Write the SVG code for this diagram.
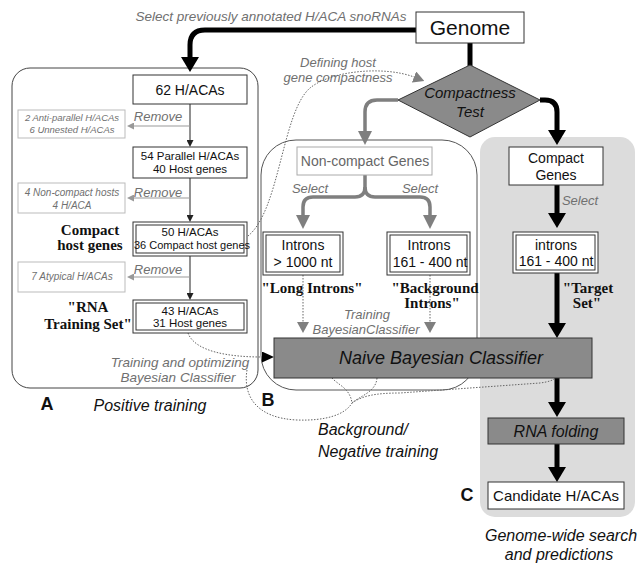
<svg xmlns="http://www.w3.org/2000/svg" width="643" height="565" viewBox="0 0 643 565">
<defs>
<style>
.s{font-family:"Liberation Sans",Arial,sans-serif;}
.i{font-family:"Liberation Sans",Arial,sans-serif;font-style:italic;}
.b{font-family:"Liberation Serif","Times New Roman",serif;font-weight:bold;}
.L{font-family:"Liberation Sans",Arial,sans-serif;font-weight:bold;}
.g{fill:#707070;}
.k{fill:#111;}
.box{fill:#fff;stroke:#333;stroke-width:1;}
.gbox{fill:#fff;stroke:#bbb;stroke-width:1;}
.dark{fill:#8a8a8a;stroke:#333;stroke-width:1;}
.thick{fill:none;stroke:#000;stroke-width:5;}
.gthick{fill:none;stroke:#7f7f7f;stroke-width:3.5;}
.thin{fill:none;stroke:#222;stroke-width:1;}
.gthin{fill:none;stroke:#999;stroke-width:1;}
.dot{fill:none;stroke:#666;stroke-width:1;stroke-dasharray:1.5 1.5;}
</style>
<marker id="hb" markerUnits="userSpaceOnUse" viewBox="0 0 15 18" refX="0" refY="9" markerWidth="15" markerHeight="18" orient="auto"><path d="M0,0 L15,9 L0,18 z" fill="#000"/></marker>
<marker id="hg" markerUnits="userSpaceOnUse" viewBox="0 0 14 14" refX="0" refY="7" markerWidth="14" markerHeight="14" orient="auto"><path d="M0,0 L14,7 L0,14 z" fill="#7f7f7f"/></marker>
<marker id="hs" markerUnits="userSpaceOnUse" viewBox="0 0 7 7" refX="0" refY="3.5" markerWidth="7" markerHeight="7" orient="auto"><path d="M0,0 L7,3.5 L0,7 z" fill="#222"/></marker>
<marker id="hsg" markerUnits="userSpaceOnUse" viewBox="0 0 7 7" refX="0" refY="3.5" markerWidth="7" markerHeight="7" orient="auto"><path d="M0,0 L7,3.5 L0,7 z" fill="#999"/></marker>
<marker id="hdg" markerUnits="userSpaceOnUse" viewBox="0 0 11 12" refX="0" refY="6" markerWidth="11" markerHeight="12" orient="auto"><path d="M0,0 L11,6 L0,12 z" fill="#7f7f7f"/></marker>
<marker id="hdk" markerUnits="userSpaceOnUse" viewBox="0 0 12 11" refX="0" refY="5.5" markerWidth="12" markerHeight="11" orient="auto"><path d="M0,0 L12,5.5 L0,11 z" fill="#000"/></marker>
</defs>

<g id="panels">
<rect x="480" y="137" width="155" height="380" rx="15" fill="#dcdcdc"/>
<rect x="12" y="68" width="246" height="320" rx="18" fill="none" stroke="#444" stroke-width="1"/>
<rect x="261" y="140" width="216" height="250" rx="35" fill="none" stroke="#555" stroke-width="1"/>
</g>

<g id="labels">
<text class="i g" x="271" y="21" font-size="13.5" text-anchor="middle">Select previously annotated H/ACA snoRNAs</text>
<text class="i g" x="338" y="67" font-size="13" text-anchor="middle">Defining host</text>
<text class="i g" x="338" y="82" font-size="13" text-anchor="middle">gene compactness</text>
<text class="i g" x="158" y="121" font-size="13" text-anchor="middle">Remove</text>
<text class="i g" x="158" y="197" font-size="13" text-anchor="middle">Remove</text>
<text class="i g" x="158" y="274" font-size="13" text-anchor="middle">Remove</text>
<text class="b k" x="90" y="235" font-size="15" text-anchor="middle">Compact</text>
<text class="b k" x="90" y="250" font-size="15" text-anchor="middle">host genes</text>
<text class="b k" x="88" y="312" font-size="15" text-anchor="middle">"RNA</text>
<text class="b k" x="88" y="329" font-size="15" text-anchor="middle">Training Set"</text>
<text class="i g" x="180" y="367" font-size="13.5" text-anchor="middle">Training and optimizing</text>
<text class="i g" x="178" y="382" font-size="13.5" text-anchor="middle">Bayesian Classifier</text>
<text class="L k" x="47" y="410" font-size="18" text-anchor="middle">A</text>
<text class="i k" x="150" y="411" font-size="16" text-anchor="middle">Positive training</text>
<text class="L k" x="268" y="406" font-size="18" text-anchor="middle">B</text>
<text class="i k" x="318" y="435" font-size="16">Background/</text>
<text class="i k" x="318" y="457" font-size="16">Negative training</text>
<text class="i g" x="310" y="193" font-size="13" text-anchor="middle">Select</text>
<text class="i g" x="420" y="193" font-size="13" text-anchor="middle">Select</text>
<text class="b k" x="312" y="293" font-size="15" text-anchor="middle">"Long Introns"</text>
<text class="b k" x="435" y="293" font-size="15" text-anchor="middle">"Background</text>
<text class="b k" x="432" y="308" font-size="15" text-anchor="middle">Introns"</text>
<text class="i g" x="367" y="319" font-size="13" text-anchor="middle">Training</text>
<text class="i g" x="366" y="334" font-size="13" text-anchor="middle">BayesianClassifier</text>
<text class="i g" x="580" y="205" font-size="13" text-anchor="middle">Select</text>
<text class="b k" x="588" y="293" font-size="15" text-anchor="middle">"Target</text>
<text class="b k" x="587" y="308" font-size="15" text-anchor="middle">Set"</text>
<text class="L k" x="467" y="501" font-size="18" text-anchor="middle">C</text>
<text class="i k" x="561" y="541" font-size="16" text-anchor="middle">Genome-wide search</text>
<text class="i k" x="559" y="560" font-size="16" text-anchor="middle">and predictions</text>
</g>

<g id="connectors">
<path class="thick" d="M416,30 H205 Q190,30 190,45 V57" marker-end="url(#hb)"/>
<path class="thick" d="M470,43 V66"/>
<path class="thick" d="M540,100 H545 Q557,100 557,112 V130" marker-end="url(#hb)"/>
<path class="gthick" d="M398,100 H377 Q365,100 365,112 V131" marker-end="url(#hg)"/>
<path class="gthick" d="M365,175 V187 Q365,197 355,197 H313 Q303,197 303,207 V215" marker-end="url(#hg)"/>
<path class="gthick" d="M365,187 Q365,197 375,197 H420 Q430,197 430,207 V215" marker-end="url(#hg)"/>
<path class="thick" d="M557,185 V213" marker-end="url(#hb)"/>
<path class="thick" d="M557,273 V323" marker-end="url(#hb)"/>
<path class="thick" d="M557,378 V402" marker-end="url(#hb)"/>
<path class="thick" d="M557,444 V467" marker-end="url(#hb)"/>
<path class="thin" d="M190,104 V140" marker-end="url(#hs)"/>
<path class="thin" d="M190,178 V215" marker-end="url(#hs)"/>
<path class="thin" d="M190,256 V293" marker-end="url(#hs)"/>
<path class="gthin" d="M190,126 H134" marker-end="url(#hsg)"/>
<path class="gthin" d="M190,198 H134" marker-end="url(#hsg)"/>
<path class="gthin" d="M190,277 H134" marker-end="url(#hsg)"/>
<path class="dot" d="M303,275 V322" marker-end="url(#hdg)"/>
<path class="dot" d="M430,275 V322" marker-end="url(#hdg)"/>
<path class="dot" d="M248,236 C280,210 282,112 310,88 C332,70 385,66 414,77" marker-end="url(#hdg)"/>
<path class="dot" d="M188,333 C195,352 230,357 262,357" marker-end="url(#hdk)"/>
<path class="dot" d="M247,370 C243,395 255,418 297,420 C325,421 345,415 352,403"/>
<path class="dot" d="M332,378 C338,385 350,388 352,403"/>
<path class="dot" d="M377,378 C376,392 360,396 352,403"/>
<path class="dot" d="M352,403 C362,396 375,393 400,393 L540,383 C548,382 554,380 555,378"/>
</g>

<g id="genome">
<rect class="box" x="416" y="12" width="108" height="31"/>
<text class="s k" x="470" y="35" font-size="21" text-anchor="middle">Genome</text>
</g>

<g id="compactness-test">
<polygon class="dark" points="470,65 540,100 470,137 398,100"/>
<text class="i k" x="470" y="98" font-size="15" text-anchor="middle">Compactness</text>
<text class="i k" x="470" y="117" font-size="15" text-anchor="middle">Test</text>
</g>

<g id="n62">
<rect class="box" x="133" y="75" width="114" height="29"/>
<text class="s k" x="190" y="95" font-size="14" text-anchor="middle">62 H/ACAs</text>
</g>

<g id="removed1">
<rect class="gbox" x="18" y="110" width="107" height="28"/>
<text class="i g" x="72" y="121" font-size="9.5" text-anchor="middle">2 Anti-parallel H/ACAs</text>
<text class="i g" x="72" y="133" font-size="9.5" text-anchor="middle">6 Unnested H/ACAs</text>
</g>

<g id="n54">
<rect class="box" x="133" y="147" width="114" height="31"/>
<text class="s k" x="190" y="160" font-size="11.5" text-anchor="middle">54 Parallel H/ACAs</text>
<text class="s k" x="190" y="173" font-size="11.5" text-anchor="middle">40 Host genes</text>
</g>

<g id="removed2">
<rect class="gbox" x="18" y="183" width="107" height="30"/>
<text class="i g" x="72" y="196" font-size="10" text-anchor="middle">4 Non-compact hosts</text>
<text class="i g" x="72" y="209" font-size="10" text-anchor="middle">4 H/ACA</text>
</g>

<g id="n50">
<rect class="box" x="133" y="222" width="114" height="34"/>
<rect class="box" x="136" y="225" width="108" height="28"/>
<text class="s k" x="190" y="236" font-size="11.5" text-anchor="middle">50 H/ACAs</text>
<text class="s k" x="192" y="249" font-size="11" text-anchor="middle">36 Compact host genes</text>
</g>

<g id="removed3">
<rect class="gbox" x="18" y="262" width="107" height="30"/>
<text class="i g" x="72" y="280" font-size="10" text-anchor="middle">7 Atypical H/ACAs</text>
</g>

<g id="n43">
<rect class="box" x="133" y="300" width="114" height="33"/>
<rect class="box" x="136" y="303" width="108" height="27"/>
<text class="s k" x="190" y="315" font-size="11.5" text-anchor="middle">43 H/ACAs</text>
<text class="s k" x="190" y="327" font-size="11.5" text-anchor="middle">31 Host genes</text>
</g>

<g id="noncompact">
<rect x="297" y="147" width="135" height="28" fill="#fff" stroke="#aaa" stroke-width="1"/>
<text class="s" fill="#666" x="365" y="166" font-size="14" text-anchor="middle">Non-compact Genes</text>
</g>

<g id="long-introns">
<rect class="box" x="263" y="232" width="80" height="43"/>
<rect class="box" x="266" y="235" width="74" height="37"/>
<text class="s k" x="303" y="250" font-size="14" text-anchor="middle">Introns</text>
<text class="s k" x="303" y="267" font-size="14" text-anchor="middle">&gt; 1000 nt</text>
</g>

<g id="bg-introns">
<rect class="box" x="387" y="232" width="83" height="43"/>
<rect class="box" x="390" y="235" width="77" height="37"/>
<text class="s k" x="429" y="250" font-size="14" text-anchor="middle">Introns</text>
<text class="s k" x="430" y="267" font-size="14" text-anchor="middle">161 - 400 nt</text>
</g>

<g id="compact-genes">
<rect class="box" x="509" y="147" width="94" height="38"/>
<text class="s k" x="556" y="163" font-size="14" text-anchor="middle">Compact</text>
<text class="s k" x="556" y="180" font-size="14" text-anchor="middle">Genes</text>
</g>

<g id="target-introns">
<rect class="box" x="513" y="232" width="85" height="41"/>
<rect class="box" x="516" y="235" width="79" height="35"/>
<text class="s k" x="556" y="250" font-size="14" text-anchor="middle">introns</text>
<text class="s k" x="556" y="266" font-size="14" text-anchor="middle">161 - 400 nt</text>
</g>

<g id="naive-bayes">
<rect class="dark" x="274" y="338" width="318" height="40"/>
<text class="i k" x="441" y="364" font-size="18" text-anchor="middle">Naive Bayesian Classifier</text>
</g>

<g id="rna-folding">
<rect class="dark" x="488" y="418" width="136" height="26"/>
<text class="i k" x="556" y="437" font-size="16" text-anchor="middle">RNA folding</text>
</g>

<g id="candidates">
<rect class="box" x="488" y="482" width="136" height="27"/>
<text class="s k" x="556" y="501" font-size="15" text-anchor="middle">Candidate H/ACAs</text>
</g>
</svg>
